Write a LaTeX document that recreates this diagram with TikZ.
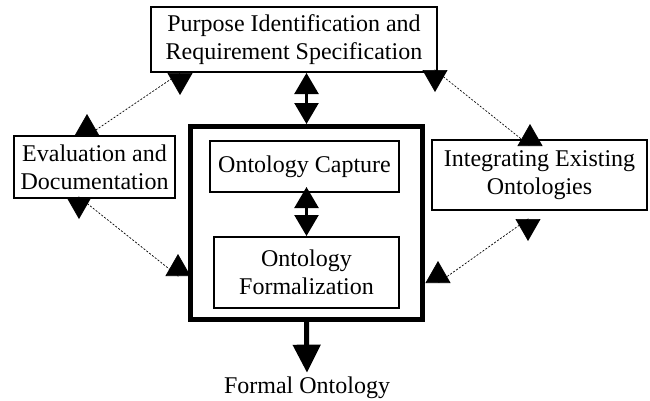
\documentclass[tikz,border=0pt]{standalone}
\usepackage{fontspec}
\setmainfont{Liberation Serif}
\usetikzlibrary{arrows.meta}

\tikzset{
  stagebox/.style={draw, line width=2.2pt, align=center, inner sep=0pt},
  linkline/.style={line width=0.7pt, dash pattern=on 2pt off 1.6pt,
    {Triangle[length=22pt,width=25pt]}-{Triangle[length=22pt,width=25pt]}},
  flowarrow/.style={line width=2.4pt,
    {Triangle[length=21pt,width=24pt]}-{Triangle[length=21pt,width=24pt]}},
}

\begin{document}
\begin{tikzpicture}[x=1pt, y=-1pt, font=\fontsize{24}{28}\selectfont]
	\useasboundingbox (0,0) rectangle (650,400);

	% outer stages
	\node[stagebox, minimum width=285.8pt, minimum height=64.8pt] (purpose) at (294,39.5) {Purpose Identification and\\Requirement Specification};
	\node[stagebox, minimum width=160.8pt, minimum height=61.8pt] (evaluation) at (94.5,167) {Evaluation and\\Documentation};
	\node[stagebox, minimum width=214.8pt, minimum height=69.8pt] (integrating) at (539.5,175) {Integrating Existing\\Ontologies};

	% core process
	\node[draw, line width=5pt, minimum width=232pt, minimum height=193pt] (process) at (306.5,223) {};
	\node[stagebox, minimum width=188.8pt, minimum height=50.8pt] (capture) at (304.5,166.5) {Ontology Capture};
	\node[stagebox, minimum width=184.8pt, minimum height=70.8pt] (formal) at (306.5,272.5) {Ontology\\Formalization};
	\node[anchor=base, inner sep=0pt] (result) at (307,393) {Formal Ontology};

	% flows
	\draw[flowarrow] (process.north |- purpose.south) -- (process.north);
	\draw[flowarrow, shorten <=-6pt] (formal.north |- capture.south) -- (formal.north);
	\draw[line width=5pt, -{Triangle[length=28pt,width=27pt]}, shorten >=3.5pt] (process.south) -- (result.north);

	% dotted links
	\draw[linkline] ([xshift=74pt,yshift=21pt]evaluation.north west) -- ([xshift=74pt,yshift=-1pt]evaluation.north west)
		-- ([xshift=30pt]purpose.south west) -- ([xshift=30pt,yshift=-22pt]purpose.south west);
	\draw[linkline] ([xshift=66pt,yshift=-20pt]evaluation.south west) -- ([xshift=66pt,yshift=2pt]evaluation.south west)
		-- ([xshift=-10pt,yshift=-53pt]process.west) -- ([xshift=-10pt,yshift=-31pt]process.west);
	\draw[linkline] ([xshift=-3pt,yshift=-19pt]purpose.south east) -- ([xshift=-3pt,yshift=3pt]purpose.south east)
		-- ([xshift=99pt,yshift=-7pt]integrating.north west) -- ([xshift=99pt,yshift=15pt]integrating.north west);
	\draw[linkline] ([xshift=97pt,yshift=-30pt]integrating.south west) -- ([xshift=97pt,yshift=-8pt]integrating.south west)
		-- ([xshift=13pt,yshift=-60pt]process.east) -- ([xshift=13pt,yshift=-38pt]process.east);
\end{tikzpicture}
\end{document}
